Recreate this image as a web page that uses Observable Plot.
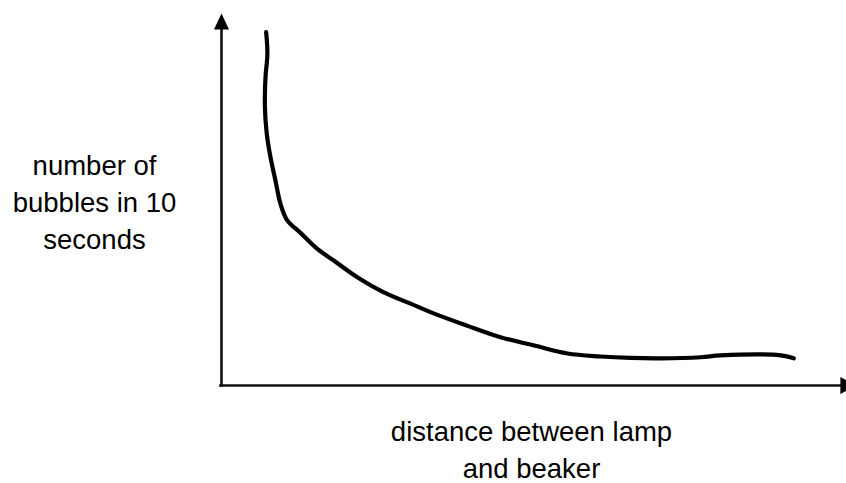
<!DOCTYPE html>
<html>
<head>
<meta charset="utf-8">
<script src="https://cdn.jsdelivr.net/npm/d3@7"></script>
<script src="https://cdn.jsdelivr.net/npm/@observablehq/plot@0.6"></script>
<style>
  html, body { margin: 0; padding: 0; background: #fff; overflow: hidden; }
  #chart svg { display: block; }
</style>
</head>
<body>
<div id="chart"></div>
<script>
// Distance between lamp and beaker (arbitrary units, 0–100 along the x axis)
const distance = [7.2, 7.4, 7.1, 7.0, 7.3, 7.9, 8.7, 9.5, 10.6, 12.7, 15.4, 18.1, 21.9, 26.1, 30.5, 34.2, 39.6, 45.0, 50.3, 55.8, 61.1, 66.0, 70.8, 77.3, 80.5, 90.2, 92.3];
// Number of bubbles in 10 seconds (arbitrary units, 0–100 along the y axis)
const bubbles  = [95.0, 89.2, 82.9, 74.8, 67.7, 61.4, 55.1, 48.9, 44.4, 41.1, 36.8, 33.6, 29.1, 25.1, 22.0, 19.4, 16.1, 13.0, 10.8, 8.6, 7.8, 7.4, 7.3, 7.6, 8.1, 8.1, 7.3];
// Axis extents (arrow tips)
const xAxisEnd = [102.4];
const yAxisEnd = [100];
// Axis label texts
const yLabel = "number of\nbubbles in 10\nseconds";
const xLabel = "distance between lamp\nand beaker";

const data = distance.map((d, i) => ({distance: d, bubbles: bubbles[i]}));

const upHead = {draw(ctx) { ctx.moveTo(0, 0); ctx.lineTo(7.5, 16); ctx.lineTo(-7.5, 16); ctx.closePath(); }};
const rightHead = {draw(ctx) { ctx.moveTo(0, 0); ctx.lineTo(-16, -8.5); ctx.lineTo(-16, 8.5); ctx.closePath(); }};

const font = "'Liberation Sans', Arial, Helvetica, sans-serif";

const chart = Plot.plot({
  width: 846,
  height: 483,
  margin: 0,
  style: {background: "#fff", overflow: "visible", fontFamily: font},
  x: {domain: [0, 100], range: [221, 841], axis: null},
  y: {domain: [0, 100], range: [385, 13], axis: null},
  marks: [
    Plot.ruleX([0], {y1: -0.5, y2: 97, stroke: "#111", strokeWidth: 2.6}),
    Plot.ruleY([0], {x1: -0.3, x2: xAxisEnd[0] - 2, stroke: "#111", strokeWidth: 2.6}),
    Plot.dot(yAxisEnd, {x: 0, y: d => d, symbol: upHead, fill: "#000", stroke: "none"}),
    Plot.dot(xAxisEnd, {x: d => d, y: 0, symbol: rightHead, fill: "#000", stroke: "none"}),
    Plot.line(data, {x: "distance", y: "bubbles", curve: "catmull-rom", stroke: "#000", strokeWidth: 4.2, strokeLinecap: "round", strokeLinejoin: "round"}),
    Plot.text([yLabel], {text: d => d, frameAnchor: "left", lineAnchor: "middle", dx: 94, dy: -42, textAnchor: "middle", fontSize: 27.5, lineHeight: 1.35, fill: "#000", fontFamily: font}),
    Plot.text([xLabel], {text: d => d, frameAnchor: "bottom", lineAnchor: "middle", dx: 108, dy: -35.5, textAnchor: "middle", fontSize: 27.5, lineHeight: 1.32, fill: "#000", fontFamily: font})
  ]
});
document.getElementById("chart").appendChild(chart);
</script>
</body>
</html>
